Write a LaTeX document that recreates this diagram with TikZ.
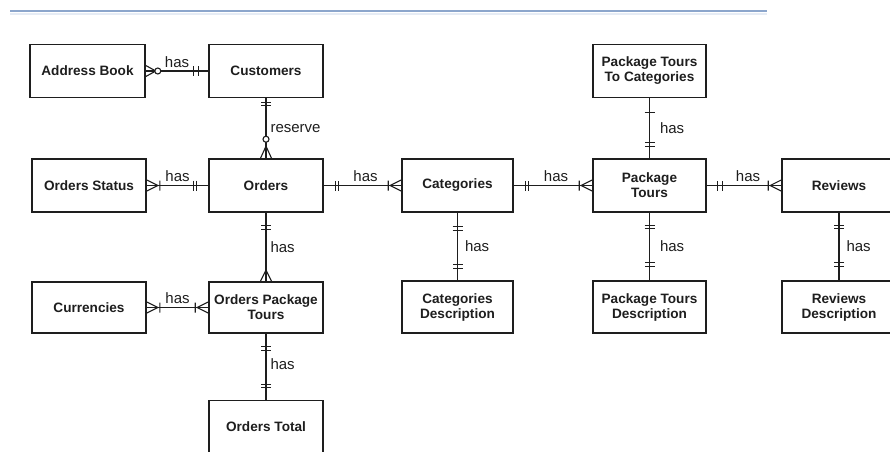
\documentclass[tikz,border=0pt]{standalone}
\usepackage{fontspec}
\setmainfont{Liberation Sans}
\definecolor{rule}{RGB}{140,166,204}
\definecolor{ruleshade}{RGB}{230,236,245}
\definecolor{ink}{RGB}{30,30,30}
\begin{document}
\begin{tikzpicture}[x=1pt,y=-1pt,
  entity/.style={draw=ink, line width=1.6pt, fill=white, minimum width=114pt,
    minimum height=53pt, align=center, inner sep=2pt, text=ink,
    font=\fontsize{13.6}{15}\selectfont\bfseries},
  conn/.style={draw=ink, line width=1.1pt},
  rel/.style={font=\fontsize{15}{17}\selectfont, text=ink, inner sep=1pt},
  % end markers: the box edge is at the origin, the line arrives from -x
  pics/crow/.style={code={\draw[conn] (-11,0) -- (0,5.5) (-11,0) -- (0,-5.5);}},
  pics/crowbar/.style={code={\draw[conn] (-11,0) -- (0,5.5) (-11,0) -- (0,-5.5)
      (-13,-5) -- (-13,5);}},
  pics/crowcirc/.style 2 args={code={\draw[conn] (-#1,0) -- (0,5.5) (-#1,0) -- (0,-5.5);
      \draw[conn, fill=white] (-#2,0) circle[radius=3];}},
  pics/twobar/.style 2 args={code={\draw[conn] (-#1,-5) -- (-#1,5) (-#2,-5) -- (-#2,5);}},
  pics/onebar/.style={code={\draw[conn] (-#1,-5) -- (-#1,5);}},
]
\useasboundingbox (0,0) rectangle (890,451);
\begin{scope}
\clip (0,0) rectangle (890,451);

% header rule
\draw[ruleshade, line width=2pt] (10,13.5) -- (767,13.5);
\draw[rule, line width=1.8pt] (10,11) -- (767,11);

% entities
\node[entity, minimum width=115pt] (ab) at (87.5,71) {Address Book};
\node[entity] (cust) at (266,71) {Customers};
\node[entity] (os)   at (89,185.5) {Orders Status};
\node[entity] (ord)  at (266,185.5) {Orders};
\node[entity, minimum height=51pt] (cur) at (89,307.5) {Currencies};
\node[entity, minimum height=51pt] (opt) at (266,307.5) {Orders Package\\Tours};
\node[entity] (ot)   at (266,427) {Orders Total};
\node[entity, minimum width=111pt] (cat)  at (457.5,185.5) {Categories};
\node[entity, minimum width=111pt, minimum height=52pt] (catd) at (457.5,307) {Categories\\Description};
\node[entity, minimum width=113pt] (ptc) at (649.5,71) {Package Tours\\To Categories};
\node[entity, minimum width=113pt] (pt)  at (649.5,185.5) {Package\\Tours};
\node[entity, minimum width=113pt, minimum height=52pt] (ptd) at (649.5,307) {Package Tours\\Description};
\node[entity] (rev)  at (839,185.5) {Reviews};
\node[entity, minimum height=52pt] (revd) at (839,307) {Reviews\\Description};

% relationships
\draw[conn] (ab) -- (cust) node[midway, above=2pt, rel] {has};
\draw[conn] (cust) -- (ord) node[midway, right=3pt, rel] {reserve};
\draw[conn] (os) -- (ord) node[midway, above=2pt, rel] {has};
\draw[conn] (ord) -- (cat) node[midway, above=2pt, rel, xshift=3pt] {has};
\draw[conn] (cat) -- (pt) node[midway, above=2pt, rel, xshift=3pt] {has};
\draw[conn] (pt) -- (rev) node[midway, above=2pt, rel, xshift=4pt] {has};
\draw[conn] (ord) -- (opt) node[midway, right=3pt, rel] {has};
\draw[conn] (cur) -- (opt) node[midway, above=2pt, rel] {has};
\draw[conn] (opt) -- (ot) node[midway, right=3pt, rel, yshift=3pt] {has};
\draw[conn] (cat) -- (catd) node[midway, right=6pt, rel] {has};
\draw[conn] (ptc) -- (pt) node[midway, right=9pt, rel] {has};
\draw[conn] (pt) -- (ptd) node[midway, right=9pt, rel] {has};
\draw[conn] (rev) -- (revd) node[midway, right=6pt, rel] {has};

% cardinality markers
\pic[rotate=180] at (ab.east) {crowcirc={10}{12}};
\pic at (cust.west) {twobar={10}{15}};
\pic[rotate=90] at (cust.south) {twobar={4}{7}};
\pic[rotate=-90] at (ord.north) {crowcirc={12}{19}};
\pic[rotate=180] at (os.east) {crowbar};
\pic at (ord.west) {twobar={12}{15}};
\pic[rotate=180] at (ord.east) {twobar={12}{15}};
\pic at (cat.west) {crowbar};
\pic[rotate=180] at (cat.east) {twobar={12}{15}};
\pic at (pt.west) {crowbar};
\pic[rotate=180] at (pt.east) {twobar={11}{16}};
\pic at (rev.west) {crowbar};
\pic[rotate=90] at (ord.south) {twobar={13}{17}};
\pic[rotate=-90] at (opt.north) {crow};
\pic[rotate=180] at (cur.east) {crowbar};
\pic at (opt.west) {crowbar};
\pic[rotate=90] at (opt.south) {twobar={13}{17}};
\pic[rotate=-90] at (ot.north) {twobar={12}{15}};
\pic[rotate=90] at (cat.south) {twobar={14}{18}};
\pic[rotate=-90] at (catd.north) {twobar={12}{16}};
\pic[rotate=90] at (ptc.south) {onebar=14};
\pic[rotate=-90] at (pt.north) {twobar={12}{16}};
\pic[rotate=90] at (pt.south) {twobar={13}{16}};
\pic[rotate=-90] at (ptd.north) {twobar={14}{18}};
\pic[rotate=90] at (rev.south) {twobar={13}{16}};
\pic[rotate=-90] at (revd.north) {twobar={14}{18}};
\end{scope}
\end{tikzpicture}
\end{document}
